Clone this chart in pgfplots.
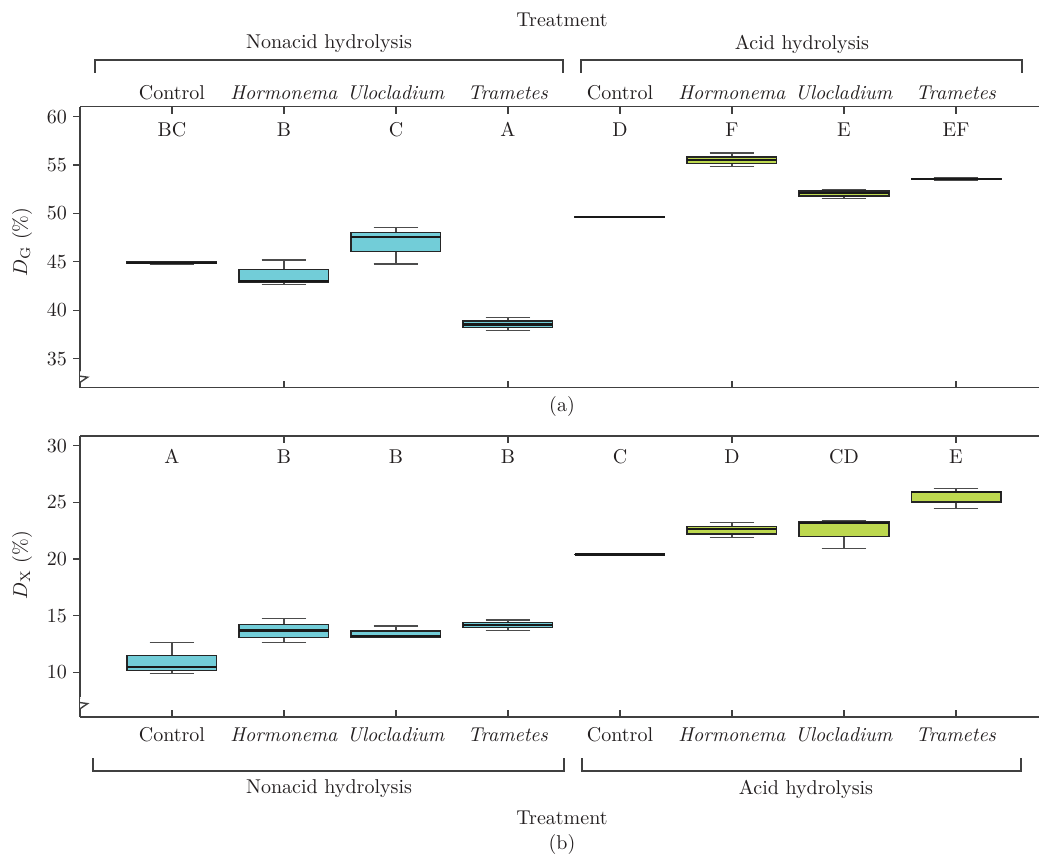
\documentclass[border=0pt]{standalone}
\usepackage{pgfplots}
\pgfplotsset{compat=1.18}
\usepgfplotslibrary{statistics}
\definecolor{cyanbox}{HTML}{72CDD8}
\definecolor{greenbox}{HTML}{BDD84F}
\definecolor{axcol}{HTML}{404040}
\definecolor{txt}{HTML}{231F20}
\pgfplotsset{
  myaxis/.style={
    scale only axis, width=479.5pt, height=140.5pt,
    xmin=-0.821, xmax=7.741,
    axis x line*=box, axis y line*=left,
    axis line style={axcol, line width=0.7pt},
    tick align=inside,
    major tick length=3.5pt,
    tick style={axcol, line width=0.6pt},
    y tick style={xshift=-3.5pt},
    yticklabel style={txt, xshift=-3pt},
    xtick={0,...,7},
    xticklabels={Control,\textit{Hormonema},\textit{Ulocladium},\textit{Trametes},Control,\textit{Hormonema},\textit{Ulocladium},\textit{Trametes}},
    xticklabel style={txt},
    boxplot/draw direction=y,
    boxplot/box extend=0.8,
    boxplot/whisker extend=0.4,
    boxplot/every whisker/.style={draw=black!70, line width=0.6pt},
    boxplot/every median/.style={draw=black!90, line width=1.1pt},
    boxplot/every box/.style={draw=black!85, line width=0.7pt},
  },
  cbox/.style={fill=cyanbox, draw=black!85},
  gbox/.style={fill=greenbox, draw=black!85},
}
\begin{document}
\begin{tikzpicture}
\useasboundingbox (0pt,0pt) rectangle (519.5pt,-428pt);
% ---------- panel (a)
\begin{axis}[myaxis, at={(40pt,-193.8pt)}, anchor=south west,
  ymin=32, ymax=61.04, ytick={35,40,...,60},
  xtick pos=right, xticklabel pos=right]
\addplot[cbox, boxplot prepared={draw position=0, lower whisker=44.75, lower quartile=44.82, median=44.88, upper quartile=44.97, upper whisker=45.05}] coordinates {};
\addplot[cbox, boxplot prepared={draw position=1, lower whisker=42.63, lower quartile=42.87, median=43.0, upper quartile=44.18, upper whisker=45.19}] coordinates {};
\addplot[cbox, boxplot prepared={draw position=2, lower whisker=44.78, lower quartile=46.09, median=47.55, upper quartile=48.03, upper whisker=48.55}] coordinates {};
\addplot[cbox, boxplot prepared={draw position=3, lower whisker=37.94, lower quartile=38.22, median=38.53, upper quartile=38.88, upper whisker=39.26}] coordinates {};
\addplot[gbox, boxplot prepared={draw position=4, lower whisker=49.60, lower quartile=49.61, median=49.62, upper quartile=49.63, upper whisker=49.64}] coordinates {};
\addplot[gbox, boxplot prepared={draw position=5, lower whisker=54.84, lower quartile=55.15, median=55.53, upper quartile=55.84, upper whisker=56.25}] coordinates {};
\addplot[gbox, boxplot prepared={draw position=6, lower whisker=51.51, lower quartile=51.82, median=52.09, upper quartile=52.30, upper whisker=52.44}] coordinates {};
\addplot[gbox, boxplot prepared={draw position=7, lower whisker=53.45, lower quartile=53.52, median=53.56, upper quartile=53.62, upper whisker=53.68}] coordinates {};
\foreach \i/\l in {0/BC,1/B,2/C,3/A,4/D,5/F,6/E,7/EF}{
  \edef\tmp{\noexpand\node[txt] at (axis cs:\i,58.65) {\l};}\tmp
}
\foreach \i in {1,3,5,7}{
  \edef\tmp{\noexpand\draw[axcol, line width=0.6pt] (axis cs:\i,32) -- ++(0pt,3.5pt);}\tmp
}
\fill[white] (rel axis cs:0,0) ++(-1pt,2.6pt) rectangle ++(2pt,5.8pt);
\draw[axcol, line width=0.7pt, line join=miter] (rel axis cs:0,0) ++(0pt,8.2pt) -- ++(-2.2pt,-2.2pt) -- ++(6pt,-0.8pt) -- ++(-3.8pt,-2.6pt);
\end{axis}
% ---------- panel (b)
\begin{axis}[myaxis, at={(40pt,-358.4pt)}, anchor=south west,
  ymin=6.08, ymax=30.88, ytick={10,15,...,30},
  xtick pos=left, xticklabel pos=left,
  xticklabel style={yshift=-2pt}]
\addplot[cbox, boxplot prepared={draw position=0, lower whisker=9.88, lower quartile=10.18, median=10.47, upper quartile=11.5, upper whisker=12.65}] coordinates {};
\addplot[cbox, boxplot prepared={draw position=1, lower whisker=12.65, lower quartile=13.09, median=13.7, upper quartile=14.2, upper whisker=14.73}] coordinates {};
\addplot[cbox, boxplot prepared={draw position=2, lower whisker=13.09, lower quartile=13.10, median=13.23, upper quartile=13.67, upper whisker=14.09}] coordinates {};
\addplot[cbox, boxplot prepared={draw position=3, lower whisker=13.67, lower quartile=13.94, median=14.2, upper quartile=14.41, upper whisker=14.62}] coordinates {};
\addplot[gbox, boxplot prepared={draw position=4, lower whisker=20.38, lower quartile=20.39, median=20.40, upper quartile=20.41, upper whisker=20.42}] coordinates {};
\addplot[gbox, boxplot prepared={draw position=5, lower whisker=21.91, lower quartile=22.2, median=22.65, upper quartile=22.85, upper whisker=23.2}] coordinates {};
\addplot[gbox, boxplot prepared={draw position=6, lower whisker=20.91, lower quartile=21.97, median=23.18, upper quartile=23.27, upper whisker=23.38}] coordinates {};
\addplot[gbox, boxplot prepared={draw position=7, lower whisker=24.44, lower quartile=25.03, median=25.89, upper quartile=25.97, upper whisker=26.2}] coordinates {};
\foreach \i/\l in {0/A,1/B,2/B,3/B,4/C,5/D,6/CD,7/E}{
  \edef\tmp{\noexpand\node[txt] at (axis cs:\i,29.03) {\l};}\tmp
}
\foreach \i in {1,3,5,7}{
  \edef\tmp{\noexpand\draw[axcol, line width=0.6pt] (axis cs:\i,30.88) -- ++(0pt,-3.5pt);}\tmp
}
\fill[white] (rel axis cs:0,0) ++(-1pt,4pt) rectangle ++(2pt,5.8pt);
\draw[axcol, line width=0.7pt, line join=miter] (rel axis cs:0,0) ++(0pt,9.6pt) -- ++(-2.2pt,-2.2pt) -- ++(6pt,-0.8pt) -- ++(-3.8pt,-2.6pt);
\end{axis}
% ---------- labels and brackets
\node[rotate=90, txt] at (11pt,-121pt) {$D_{\mathrm{G}}$ (\%)};
\node[rotate=90, txt] at (11pt,-282.5pt) {$D_{\mathrm{X}}$ (\%)};
\node[txt] at (281pt,-10pt) {Treatment};
\node[txt] at (164.5pt,-22pt) {Nonacid hydrolysis};
\node[txt] at (401pt,-22pt) {Acid hydrolysis};
\draw[axcol, line width=0.6pt] (47.5pt,-36.5pt) -- (47.5pt,-30pt) -- (281.5pt,-30pt) -- (281.5pt,-36.5pt);
\draw[axcol, line width=0.6pt] (290.5pt,-36.5pt) -- (290.5pt,-30pt) -- (511pt,-30pt) -- (511pt,-36.5pt);
\node[txt] at (281pt,-203pt) {(a)};
\draw[axcol, line width=0.6pt] (46.5pt,-379pt) -- (46.5pt,-385.5pt) -- (282pt,-385.5pt) -- (282pt,-379pt);
\draw[axcol, line width=0.6pt] (291pt,-379pt) -- (291pt,-385.5pt) -- (510.5pt,-385.5pt) -- (510.5pt,-379pt);
\node[txt] at (164.5pt,-394.5pt) {Nonacid hydrolysis};
\node[txt] at (403pt,-394.5pt) {Acid hydrolysis};
\node[txt] at (281pt,-409pt) {Treatment};
\node[txt] at (281pt,-422pt) {(b)};
\end{tikzpicture}
\end{document}
